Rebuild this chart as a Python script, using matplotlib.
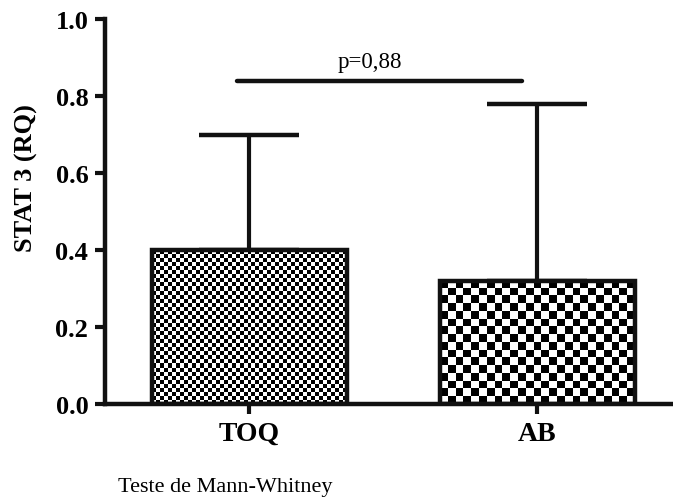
import numpy as np
import matplotlib
matplotlib.use("Agg")
from matplotlib import pyplot as plt

# dados
grupos = ["TOQ", "AB"]
medias = [0.40, 0.32]
erros = [0.30, 0.46]
p_texto = "p=0,88"
p_altura = 0.84
yticks = [0.0, 0.2, 0.4, 0.6, 0.8, 1.0]

# tamanho da célula do xadrez (px) para cada barra
celula_px = [4.0, 7.7]

plt.rcParams["font.family"] = ["Liberation Serif", "DejaVu Serif"]

fig = plt.figure(figsize=(6.73, 5.02), dpi=100)
ax = fig.add_axes([105 / 673, 1 - 405 / 502, 568 / 673, 385 / 502])

x = np.arange(len(grupos))
largura = 0.676

ax.set_xlim(-0.5, 1.47)
ax.set_ylim(0, 1.0)

# barras de erro (apenas para cima)
ax.errorbar(x, medias, yerr=[[0] * len(erros), erros], fmt="none",
            ecolor="#111111", elinewidth=3, capsize=36, capthick=3.2, zorder=1)

barras = ax.bar(x, medias, width=largura, facecolor="none",
                edgecolor="#111111", linewidth=3.2, zorder=3)

# preenchimento xadrez recortado em cada barra
fig.canvas.draw()
for barra, cel in zip(barras, celula_px):
    x0, y0 = barra.get_x(), barra.get_y()
    x1, y1 = x0 + barra.get_width(), y0 + barra.get_height()
    p0 = ax.transData.transform((x0, y0))
    p1 = ax.transData.transform((x1, y1))
    nx = max(int(round((p1[0] - p0[0]) / cel)), 1)
    ny = max(int(round((p1[1] - p0[1]) / cel)), 1)
    xadrez = (np.add.outer(np.arange(ny), np.arange(nx)) % 2).astype(float)
    im = ax.imshow(xadrez, extent=(x0, x1, y0, y1), cmap="gray", vmin=0, vmax=1,
                   interpolation="nearest", aspect="auto", zorder=2)
    im.set_clip_path(barra)

ax.set_xlim(-0.5, 1.47)
ax.set_ylim(0, 1.0)

# linha de comparação
ax.plot([-0.042, 0.946], [p_altura, p_altura], color="#111111", lw=3.2,
        solid_capstyle="round", clip_on=False)
ax.text(0.42, p_altura + 0.035, p_texto, ha="center", va="baseline", fontsize=16.5)

ax.set_xticks(x)
ax.set_xticklabels(grupos, fontsize=20, fontweight="bold")
ax.set_yticks(yticks)
ax.set_yticklabels([f"{v:.1f}" for v in yticks], fontsize=19, fontweight="bold")
ax.tick_params(axis="both", width=3, length=7, color="#111111", pad=5)

ax.spines["top"].set_visible(False)
ax.spines["right"].set_visible(False)
ax.spines["left"].set_linewidth(3.2)
ax.spines["bottom"].set_linewidth(3.2)
ax.spines["left"].set_color("#111111")
ax.spines["bottom"].set_color("#111111")

ax.set_ylabel("STAT 3 (RQ)", fontsize=19, fontweight="bold")
ax.yaxis.set_label_coords(-0.118, 0.59)

fig.text(118 / 673, 1 - 492 / 502, "Teste de Mann-Whitney", fontsize=16, va="baseline")

fig.savefig("out.png", dpi=100)
